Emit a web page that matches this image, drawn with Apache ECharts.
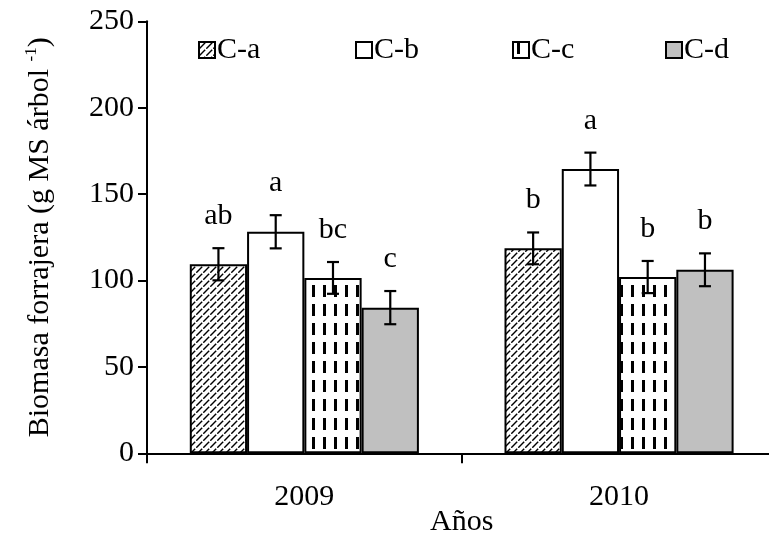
<!DOCTYPE html>
<html>
<head>
<meta charset="utf-8">
<script src="https://cdn.jsdelivr.net/npm/echarts@6/dist/echarts.min.js"></script>
<style>
  html, body { margin: 0; padding: 0; background: #fff; }
  #chart { width: 769px; height: 540px; }
</style>
</head>
<body>
<div id="chart"></div>
<script>
// Forage biomass per tree, by treatment and year
const years = ['2009', '2010'];
const treatments = ['C-a', 'C-b', 'C-c', 'C-d'];
// mean biomass (g MS per tree), one array per treatment, ordered by year
const biomassCa = [109.4, 118.6];
const biomassCb = [128.2, 164.5];
const biomassCc = [101.5, 102.0];
const biomassCd = [84.3, 106.2];
// standard error of each mean
const errCa = [9.3, 9.2];
const errCb = [9.6, 9.5];
const errCc = [9.2, 9.3];
const errCd = [9.6, 9.5];
// significance letters within each year
const lettersCa = ['ab', 'b'];
const lettersCb = ['a', 'a'];
const lettersCc = ['bc', 'b'];
const lettersCd = ['c', 'b'];
const yTicks = [0, 50, 100, 150, 200, 250];

const means = [biomassCa, biomassCb, biomassCc, biomassCd];
const errors = [errCa, errCb, errCc, errCd];
const letters = [lettersCa, lettersCb, lettersCc, lettersCd];

const FONT = '"Liberation Serif", "Times New Roman", serif';
const FS = 30;
const BAR_FRACTION = 0.182;

function makePattern(w, h, draw) {
  const c = document.createElement('canvas');
  c.width = w; c.height = h;
  const ctx = c.getContext('2d');
  ctx.fillStyle = '#ffffff';
  ctx.fillRect(0, 0, w, h);
  ctx.fillStyle = '#000000';
  ctx.strokeStyle = '#000000';
  draw(ctx);
  return { image: c, repeat: 'repeat' };
}

// upward diagonal hatch
const hatch = makePattern(7, 7, function (ctx) {
  ctx.lineWidth = 1.4;
  ctx.beginPath();
  ctx.moveTo(0.3, 6.7);
  ctx.lineTo(6.2, 0.8);
  ctx.stroke();
});
// vertical dashes
const dashes = makePattern(11, 19, function (ctx) {
  ctx.fillRect(4, 0, 3, 12);
});

const fills = [hatch, '#ffffff', dashes, '#c0c0c0'];

const barSeries = treatments.map(function (name, k) {
  return {
    name: name,
    type: 'bar',
    data: means[k],
    barWidth: (BAR_FRACTION * 100) + '%',
    barGap: '0%',
    itemStyle: { color: fills[k], borderColor: '#000', borderWidth: 2 },
    emphasis: { disabled: true },
    z: 2
  };
});

// error bars and letters, one row per bar
const errRows = [];
treatments.forEach(function (name, k) {
  years.forEach(function (yr, i) {
    errRows.push([i, means[k][i], errors[k][i], k, letters[k][i]]);
  });
});

const errSeries = {
  type: 'custom',
  data: errRows.map(function (r) { return [r[0], r[1], r[2], r[3]]; }),
  z: 5,
  silent: true,
  renderItem: function (params, api) {
    const cat = api.value(0);
    const mean = api.value(1);
    const err = api.value(2);
    const k = api.value(3);
    const catW = api.size([1, 0])[0];
    const dx = (k - 1.5) * BAR_FRACTION * catW;
    const top = api.coord([cat, mean + err]);
    const bot = api.coord([cat, mean - err]);
    const x = top[0] + dx;
    const cap = 6;
    const st = { stroke: '#000', lineWidth: 2.2 };
    return {
      type: 'group',
      children: [
        { type: 'line', shape: { x1: x, y1: top[1], x2: x, y2: bot[1] }, style: st },
        { type: 'line', shape: { x1: x - cap, y1: top[1], x2: x + cap, y2: top[1] }, style: st },
        { type: 'line', shape: { x1: x - cap, y1: bot[1], x2: x + cap, y2: bot[1] }, style: st },
        {
          type: 'text',
          style: {
            x: x, y: top[1] - 17,
            text: errRows[params.dataIndex][4],
            font: FS + 'px ' + FONT,
            fill: '#000',
            align: 'center',
            verticalAlign: 'bottom'
          }
        }
      ]
    };
  }
};

// one legend block per treatment, evenly spaced across the top
const legendLefts = [198, 355, 512, 665];
const legends = treatments.map(function (name, k) {
  return {
    data: [name],
    left: legendLefts[k],
    top: 35,
    itemWidth: 16,
    itemHeight: 16,
    itemGap: 0,
    icon: 'rect',
    selectedMode: false,
    padding: 0,
    textStyle: { fontFamily: FONT, fontSize: FS, color: '#000', padding: [0, 0, 0, -3] }
  };
});

const chart = echarts.init(document.getElementById('chart'), null, { renderer: 'canvas' });
chart.setOption({
  animation: false,
  backgroundColor: '#ffffff',
  textStyle: { fontFamily: FONT, color: '#000' },
  legend: legends,
  grid: { left: 147, top: 21.3, width: 629.4, height: 432, containLabel: false, outerBoundsMode: 'none' },
  xAxis: {
    type: 'category',
    data: years,
    name: 'Años',
    nameLocation: 'middle',
    nameGap: 54,
    nameMoveOverlap: false,
    nameTextStyle: { fontFamily: FONT, fontSize: FS, color: '#000' },
    axisLine: { lineStyle: { color: '#000', width: 2 } },
    axisTick: { show: true, length: 10, lineStyle: { color: '#000', width: 2 } },
    axisLabel: { fontFamily: FONT, fontSize: FS, color: '#000', margin: 29 }
  },
  yAxis: {
    type: 'value',
    min: yTicks[0],
    max: yTicks[yTicks.length - 1],
    interval: yTicks[1] - yTicks[0],
    name: '{t|Biomasa forrajera (g MS árbol }{s|-1}{t|)}',
    nameLocation: 'middle',
    nameGap: 90,
    nameRotate: 90,
    nameMoveOverlap: false,
    nameTextStyle: {
      rich: {
        t: { fontFamily: FONT, fontSize: FS, color: '#000', lineHeight: 34 },
        s: { fontFamily: FONT, fontSize: 17, color: '#000', verticalAlign: 'top', lineHeight: 34, padding: [0, 0, 14, 0] }
      }
    },
    splitLine: { show: false },
    axisLine: { show: true, lineStyle: { color: '#000', width: 2 } },
    axisTick: { show: true, length: 9, lineStyle: { color: '#000', width: 2 } },
    axisLabel: { fontFamily: FONT, fontSize: FS, color: '#000', margin: 13 }
  },
  series: barSeries.concat([errSeries])
});
</script>
</body>
</html>
